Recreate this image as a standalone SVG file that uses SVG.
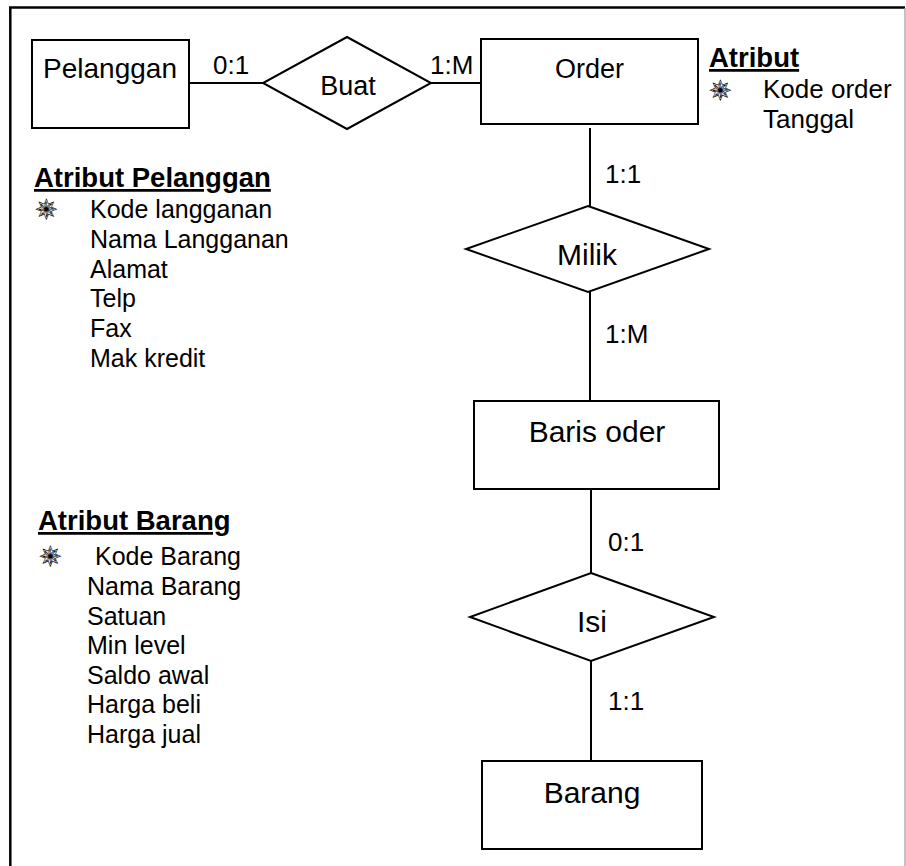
<svg xmlns="http://www.w3.org/2000/svg" width="906" height="866" viewBox="0 0 906 866">
  <style>
    .shape { fill: #ffffff; stroke: #000000; stroke-width: 2; }
    .link { stroke: #000000; stroke-width: 2; fill: none; }
    text { font-family: "Liberation Sans", Arial, sans-serif; fill: #000000; }
    .ent { font-size: 27px; text-anchor: middle; }
    .ent-lg { font-size: 30px; text-anchor: middle; }
    .card { font-size: 26px; }
    .head { font-size: 27.5px; font-weight: bold; text-decoration: underline; }
    .attr { font-size: 25px; }
    .attr-o { font-size: 26px; }
    .star { font-family: "DejaVu Sans", sans-serif; font-size: 27px; fill: #ffffff; stroke: #000000; stroke-width: 0.6; }
  </style>

  <!-- page frame -->
  <rect x="0" y="0" width="906" height="866" fill="#ffffff"/>
  <line x1="9" y1="7.5" x2="905" y2="7.5" stroke="#000" stroke-width="2.5"/>
  <line x1="10.3" y1="7" x2="10.3" y2="866" stroke="#000" stroke-width="2.5"/>
  <line x1="905" y1="8" x2="905" y2="866" stroke="#9a9a9a" stroke-width="1.2"/>

  <!-- connectors -->
  <g id="connectors">
    <line class="link" x1="189" y1="83" x2="263" y2="83"/>
    <line class="link" x1="431" y1="83" x2="481" y2="83"/>
    <line class="link" x1="590" y1="128" x2="590" y2="206"/>
    <line class="link" x1="590" y1="292" x2="590" y2="401"/>
    <line class="link" x1="591" y1="489" x2="591" y2="573"/>
    <line class="link" x1="591" y1="661" x2="591" y2="761"/>
    <text class="card" x="213" y="74">0:1</text>
    <text class="card" x="430" y="74">1:M</text>
    <text class="card" x="605" y="183">1:1</text>
    <text class="card" x="605" y="343">1:M</text>
    <text class="card" x="608" y="551">0:1</text>
    <text class="card" x="608" y="710">1:1</text>
  </g>

  <!-- entities and relationships -->
  <g id="pelanggan">
    <rect class="shape" x="32" y="40" width="157" height="88"/>
    <text class="ent" x="110" y="78" style="font-size:28px">Pelanggan</text>
  </g>
  <g id="buat">
    <polygon class="shape" points="347,37 431,83 347,129 263,83"/>
    <text class="ent" x="348" y="95">Buat</text>
  </g>
  <g id="order">
    <rect class="shape" x="481" y="39" width="217" height="85"/>
    <text class="ent" x="589.5" y="78">Order</text>
  </g>
  <g id="milik">
    <polygon class="shape" points="588,206 709,249 588,292 466,249"/>
    <text class="ent-lg" x="587" y="265">Milik</text>
  </g>
  <g id="baris-oder">
    <rect class="shape" x="474" y="401" width="245" height="88"/>
    <text class="ent-lg" x="597" y="442">Baris oder</text>
  </g>
  <g id="isi">
    <polygon class="shape" points="591,573 714,617 591,661 470,617"/>
    <text class="ent-lg" x="592" y="632">Isi</text>
  </g>
  <g id="barang">
    <rect class="shape" x="482" y="761" width="220" height="88"/>
    <text class="ent-lg" x="592" y="803">Barang</text>
  </g>

  <!-- attribute lists -->
  <g id="atribut-order">
    <text class="head" x="709" y="67">Atribut</text>
    <text class="star" x="709" y="100">✵</text>
    <text class="attr-o" x="763" y="98">Kode order</text>
    <text class="attr-o" x="763" y="128">Tanggal</text>
  </g>
  <g id="atribut-pelanggan">
    <text class="head" x="34" y="187">Atribut Pelanggan</text>
    <text class="star" x="35" y="219">✵</text>
    <text class="attr" x="90" y="218">Kode langganan</text>
    <text class="attr" x="90" y="248">Nama Langganan</text>
    <text class="attr" x="90" y="278">Alamat</text>
    <text class="attr" x="90" y="307">Telp</text>
    <text class="attr" x="90" y="337">Fax</text>
    <text class="attr" x="90" y="367">Mak kredit</text>
  </g>
  <g id="atribut-barang">
    <text class="head" x="38" y="530">Atribut Barang</text>
    <text class="star" x="39" y="566">✵</text>
    <text class="attr" x="95" y="565">Kode Barang</text>
    <text class="attr" x="87" y="595">Nama Barang</text>
    <text class="attr" x="87" y="625">Satuan</text>
    <text class="attr" x="87" y="654">Min level</text>
    <text class="attr" x="87" y="684">Saldo awal</text>
    <text class="attr" x="87" y="713">Harga beli</text>
    <text class="attr" x="87" y="743">Harga jual</text>
  </g>
</svg>
